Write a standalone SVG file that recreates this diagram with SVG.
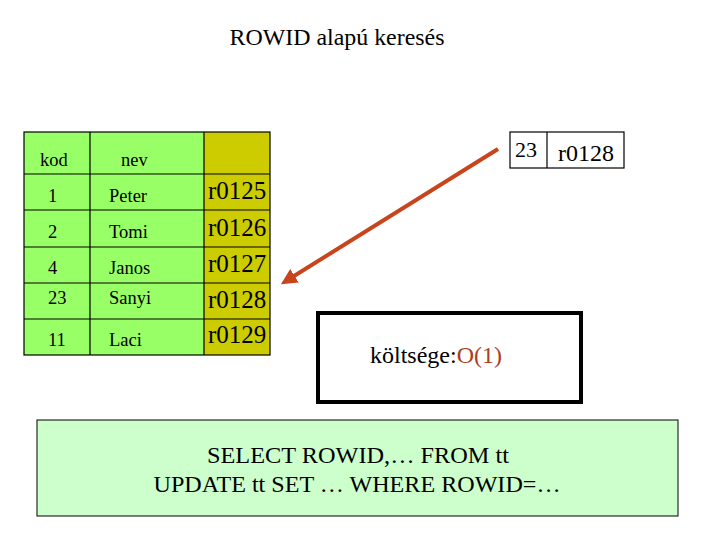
<svg xmlns="http://www.w3.org/2000/svg" width="720" height="540" viewBox="0 0 720 540">
<style>
text{font-family:"Liberation Serif","Times New Roman",serif;fill:#000}
.sm{font-size:18.5px}
.rid{font-size:25px}
.cell{stroke:#000;stroke-width:1.2}
</style>
<defs>
<marker id="ah" markerWidth="4" markerHeight="4" refX="2.5" refY="2" orient="auto" markerUnits="strokeWidth">
<path d="M0,0 L4,2 L0,4 Z" fill="#c8441c"/>
</marker>
</defs>
<rect width="720" height="540" fill="#fff"/>
<text x="337" y="45" font-size="23" text-anchor="middle" textLength="215" lengthAdjust="spacingAndGlyphs">ROWID alapú keresés</text>
<g id="table">
<rect x="24" y="132" width="180" height="223" fill="#99ff66"/>
<rect x="204" y="132" width="66" height="223" fill="#cccc00"/>
<rect x="24" y="132" width="246" height="223" fill="none" class="cell"/>
<path class="cell" d="M90,132V355M204,132V355M24,174H270M24,210H270M24,247H270M24,283H270M24,319H270"/>
<text class="sm" x="40" y="166">kod</text>
<text class="sm" x="121" y="166">nev</text>
<text class="sm" x="48" y="202">1</text><text class="sm" x="109" y="202">Peter</text><text class="rid" x="208" y="199">r0125</text>
<text class="sm" x="48" y="238">2</text><text class="sm" x="109" y="238">Tomi</text><text class="rid" x="208" y="236">r0126</text>
<text class="sm" x="48" y="274">4</text><text class="sm" x="109" y="274">Janos</text><text class="rid" x="208" y="272">r0127</text>
<text class="sm" x="48" y="304">23</text><text class="sm" x="109" y="304">Sanyi</text><text class="rid" x="208" y="308">r0128</text>
<text class="sm" x="48" y="346">11</text><text class="sm" x="109" y="346">Laci</text><text class="rid" x="208" y="343">r0129</text>
</g>
<g id="key">
<rect x="510" y="132" width="114" height="36" fill="#fff" class="cell"/>
<path class="cell" d="M547,132V168"/>
<text x="515" y="157" font-size="22">23</text>
<text x="558" y="161" font-size="24">r0128</text>
</g>
<g id="connectors">
<line x1="498" y1="149" x2="286" y2="281" stroke="#c8441c" stroke-width="4" marker-end="url(#ah)"/>
</g>
<g id="cost">
<rect x="318" y="313" width="263" height="89" fill="#fff" stroke="#000" stroke-width="4"/>
<text x="370" y="363" font-size="23" textLength="132" lengthAdjust="spacingAndGlyphs">költsége:<tspan fill="#b03a1a">O(1)</tspan></text>
</g>
<g id="sql">
<rect x="37" y="420" width="641" height="96" fill="#ccffcc" stroke="#000" stroke-width="1"/>
<text x="358" y="463" font-size="23" text-anchor="middle" textLength="302" lengthAdjust="spacingAndGlyphs">SELECT ROWID,… FROM tt</text>
<text x="357" y="492" font-size="23" text-anchor="middle" textLength="407" lengthAdjust="spacingAndGlyphs">UPDATE tt SET … WHERE ROWID=…</text>
</g>
</svg>
